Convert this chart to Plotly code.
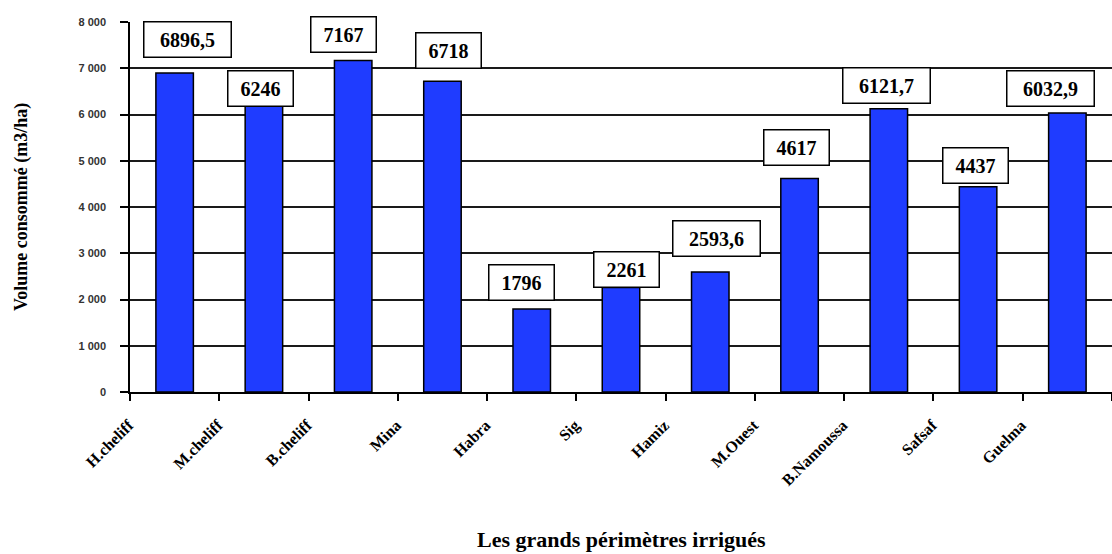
import plotly.graph_objects as go

# ---- data ----
categories = ["H.cheliff", "M.cheliff", "B.cheliff", "Mina", "Habra", "Sig",
              "Hamiz", "M.Ouest", "B.Namoussa", "Safsaf", "Guelma"]
volumes = [6896.5, 6246, 7167, 6718, 1796, 2261, 2593.6, 4617, 6121.7, 4437, 6032.9]
value_labels = ["6896,5", "6246", "7167", "6718", "1796", "2261",
                "2593,6", "4617", "6121,7", "4437", "6032,9"]
y_tick_values = [0, 1000, 2000, 3000, 4000, 5000, 6000, 7000, 8000]
y_tick_labels = ["0", "1 000", "2 000", "3 000", "4 000", "5 000", "6 000", "7 000", "8 000"]
x_title = "Les grands périmètres irrigués"
y_title = "Volume consommé (m3/ha)"

# label box offsets (pixels) relative to bar top/center
label_dx = [13, -3, -10, 6, -10, 5, 6, -3, -2, -3, -17]
label_dy = [15, -4, 8, 12, 8, -1, 15, 12, 5, 3, 6]

SERIF = "Liberation Serif"
SANS = "Liberation Sans"

fig = go.Figure()
fig.add_trace(go.Bar(
    x=categories, y=volumes,
    marker=dict(color="#1f3cff", line=dict(color="black", width=1.5)),
    hoverinfo="x+y",
))

annotations = []
for cat, v, lab, dx, dy in zip(categories, volumes, value_labels, label_dx, label_dy):
    annotations.append(dict(
        x=cat, y=v, xref="x", yref="y", text=lab, showarrow=False,
        xanchor="center", yanchor="bottom", xshift=dx, yshift=dy,
        bgcolor="white", bordercolor="black", borderwidth=1.5, borderpad=3,
        width=11 * len(lab) + 14, height=28,
        font=dict(family=SERIF, size=20, color="black", weight="bold"),
    ))

annotations.append(dict(
    x=0.5, y=0, xref="paper", yref="paper", text=x_title, showarrow=False,
    xanchor="center", yanchor="middle", yshift=-147,
    font=dict(family=SERIF, size=22, color="black", weight="bold"),
))
annotations.append(dict(
    x=0, y=0.5, xref="paper", yref="paper", text=y_title, showarrow=False,
    xanchor="center", yanchor="middle", xshift=-109, textangle=-90,
    font=dict(family=SERIF, size=18, color="black", weight="bold"),
))

fig.update_layout(
    width=1112, height=554,
    margin=dict(l=130, r=0, t=22, b=162, pad=0),
    plot_bgcolor="white", paper_bgcolor="white",
    bargap=0.58, showlegend=False,
    annotations=annotations,
)
fig.update_xaxes(
    type="category", showline=True, linecolor="black", linewidth=1.5,
    ticks="outside", tickson="boundaries", ticklen=7, tickwidth=1.5, tickcolor="black",
    tickangle=-45, ticklabelshift=-46, ticklabelstandoff=16,
    tickfont=dict(family=SERIF, size=16, color="black", weight="bold"),
    showgrid=False, automargin=False,
)
fig.update_yaxes(
    range=[0, 8000], tickvals=y_tick_values, ticktext=y_tick_labels,
    showgrid=True, gridcolor="#1a1a1a", gridwidth=1.5,
    showline=True, linecolor="black", linewidth=1.5,
    ticks="outside", ticklen=8, tickwidth=1.5, tickcolor="black",
    ticklabelstandoff=12,
    tickfont=dict(family=SANS, size=11, color="#333333", weight="bold"),
    zeroline=False, automargin=False,
)

fig.write_html("out.html")
